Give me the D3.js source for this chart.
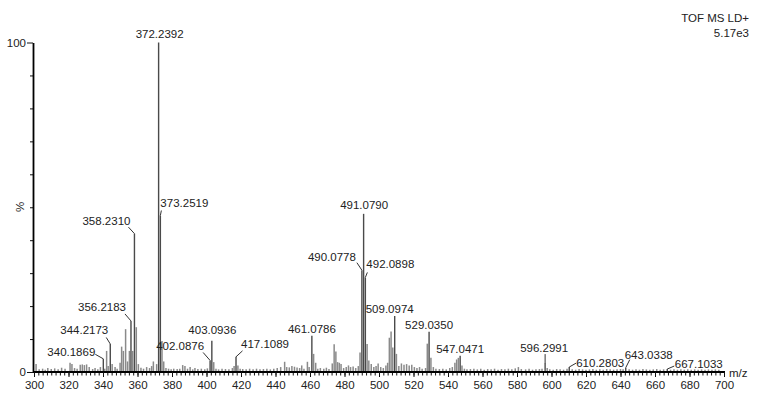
<!DOCTYPE html>
<html>
<head>
<meta charset="utf-8">
<script src="https://cdn.jsdelivr.net/npm/d3@7"></script>
<style>
    body { margin: 0; background: #fff; }
    #spectrum text { font-family: "Liberation Sans", Arial, sans-serif; font-size: 11.5px; fill: #222; }
</style>
</head>
<body>
<div id="spectrum"></div>
<script>
// labelled peaks (m/z, relative intensity %)
const labelMz = [340.1869, 344.2173, 356.2183, 358.2310, 372.2392, 373.2519, 402.0876, 403.0936,
    417.1089, 461.0786, 490.0778, 491.0790, 492.0898, 509.0974, 529.0350, 547.0471,
    596.2991, 610.2803, 643.0338, 667.1033];
const labelPct = [4.0, 8.5, 15.5, 42, 100, 47.5, 3.5, 9.5,
    4.6, 11, 30.9, 48, 28.7, 17, 12.2, 4.9,
    2.7, 1.5, 1.3, 0.9];

// unlabelled peaks
const peakMz = [301.2, 303, 305, 306.5, 308, 310, 312, 314, 316, 318, 320.9, 322, 323.5, 325, 326.8, 328, 329.2, 330.5,
    332, 334, 335.4, 337, 338.5, 341, 342.1, 343, 345.3, 347, 348.2, 349.9, 350.8, 351.8, 353.1, 354.2, 355.3, 357.2,
    359.3, 360.5, 362, 363.5, 365.3, 367, 368.2, 369.2, 371.1, 374.2, 375.2, 376.5, 378, 379.5, 381, 383, 384.5, 386.2,
    387.5, 389, 390.5, 392, 393.3, 395, 397, 399, 400.5, 404.2, 405.5, 407, 409, 411, 413, 415, 416, 418.2, 419.5, 421,
    423, 425, 427, 429, 431, 433, 435, 437, 439, 441, 443, 445.3, 446.5, 448, 449.5, 451, 452.5, 454, 455.2, 456.5,
    458.5, 459.5, 462.1, 463.3, 464.5, 466, 468, 469.5, 471, 472.9, 474, 475, 476, 477, 478, 479.5, 481, 482.3, 483.5,
    485, 486.5, 488, 489, 493.1, 494.1, 495.5, 497, 498.3, 499.5, 501, 502.5, 504, 505, 506, 507, 508, 510.1, 511.5,
    513, 514.5, 516, 517.5, 519, 520.5, 522, 523.5, 525, 527, 528, 530.1, 531.5, 533, 535, 537, 539, 541, 542.5, 544,
    545, 546, 548.1, 549.5, 551, 553, 555, 557, 559, 561, 563, 565, 567, 569, 571, 573, 575, 577, 579, 580.8, 582.5,
    585, 587, 589, 591, 593, 594.5, 597.5, 599, 601, 603, 605, 607, 609, 612, 614, 616, 618, 620, 622, 624, 626, 628,
    630, 632, 634, 636, 638, 640, 641.5, 645, 647, 649, 651, 653, 655, 657, 659, 661, 663, 665, 669, 671, 673, 675,
    677, 679, 681, 683, 685, 687, 689, 691, 693, 695, 697];
const peakPct = [2.4, 0.8, 1.0, 0.7, 1.2, 0.9, 1.1, 0.8, 1.3, 1.0, 2.8, 2.4, 1.2, 1.0, 2.2, 2.3, 2.1, 2.3,
    1.5, 0.9, 1.2, 0.8, 1.5, 1.0, 6.4, 1.8, 2.4, 1.5, 1.0, 2.8, 7.7, 6.4, 13, 3.2, 6.4, 6.4,
    13.6, 2.4, 1.3, 1.0, 1.5, 1.2, 1.8, 3.2, 2.4, 9.4, 3.2, 1.2, 1.0, 0.8, 1.0, 0.9, 1.0, 2.1,
    1.8, 1.0, 1.5, 0.8, 1.2, 0.9, 1.0, 0.8, 1.1, 3.0, 1.0, 0.8, 1.0, 0.9, 0.8, 1.2, 1.8, 2.0, 1.0, 0.9,
    0.8, 1.0, 0.8, 1.0, 0.8, 0.9, 1.0, 0.8, 1.0, 1.2, 1.5, 3.1, 1.5, 1.4, 1.8, 1.6, 1.4, 1.2, 2.0, 1.0,
    3.1, 1.5, 5.5, 2.8, 1.0, 1.2, 1.0, 1.3, 0.9, 2.6, 8.4, 6.2, 3.0, 2.8, 2.4, 1.2, 1.5, 2.0, 1.5,
    1.7, 1.2, 1.8, 5.9, 8.5, 3.5, 2.4, 1.5, 1.8, 2.6, 1.5, 1.2, 2.0, 2.8, 10.4, 12.3, 7.4, 5.5, 1.8,
    2.6, 2.2, 2.4, 2.0, 2.2, 1.5, 1.2, 1.5, 1.0, 1.2, 8.6, 4.3, 1.5, 1.0, 0.9, 1.0, 0.8, 1.2, 1.5, 2.8,
    3.8, 4.3, 2.0, 1.0, 0.8, 0.9, 1.0, 0.8, 1.0, 0.7, 0.9, 0.8, 1.0, 0.7, 0.9, 0.8, 1.0, 0.8, 1.1, 1.5, 0.9,
    0.8, 1.0, 0.7, 0.8, 0.9, 1.0, 1.2, 0.8, 0.7, 0.9, 0.8, 0.7, 1.0, 0.8, 0.7, 0.9, 0.8, 0.7, 0.8, 0.9, 0.7, 0.8,
    0.7, 0.9, 0.8, 0.7, 0.8, 0.9, 0.8, 0.8, 0.7, 0.8, 0.7, 0.9, 0.8, 0.7, 0.8, 0.9, 0.7, 0.8, 0.7, 0.8, 0.7, 0.8,
    0.7, 0.8, 0.7, 0.8, 0.7, 0.8, 0.7, 0.8, 0.7, 0.8, 0.7];

const xTicks = d3.range(300, 701, 20);
const yTicks = [0, 100];
const headerLines = ["TOF MS LD+", "5.17e3"];

// where each label sits relative to its peak top: text offset, anchor, leader start
const labelLayout = {
    "340.1869": { dx: -8, dy: -3, anchor: "end", lx: -8, ly: -4.5 },
    "344.2173": { dx: -2, dy: -9.5, anchor: "end", lx: -4, ly: -6.5 },
    "356.2183": { dx: -5, dy: -10, anchor: "end", lx: -6, ly: -7 },
    "358.2310": { dx: -4, dy: -9, anchor: "end", lx: -6, ly: -6.5 },
    "372.2392": { dx: 1, dy: -5, anchor: "middle" },
    "373.2519": { dx: 0, dy: -8, anchor: "start", lx: 1, ly: -5 },
    "402.0876": { dx: -6, dy: -10, anchor: "end", lx: -7, ly: -8 },
    "403.0936": { dx: 0.5, dy: -7, anchor: "middle" },
    "417.1089": { dx: 5, dy: -8.5, anchor: "start", lx: 6.5, ly: -6 },
    "461.0786": { dx: 0, dy: -3, anchor: "middle" },
    "490.0778": { dx: -6, dy: -9.5, anchor: "end", lx: -5, ly: -7.5 },
    "491.0790": { dx: 0.5, dy: -4.5, anchor: "middle" },
    "492.0898": { dx: 1, dy: -9, anchor: "start", lx: 2, ly: -5 },
    "509.0974": { dx: -5, dy: -3, anchor: "middle" },
    "529.0350": { dx: 0, dy: -3, anchor: "middle" },
    "547.0471": { dx: 0, dy: -2.5, anchor: "middle" },
    "596.2991": { dx: -1, dy: -11, anchor: "middle", lx: 0, ly: -9 },
    "610.2803": { dx: 7, dy: 0, anchor: "start", lx: 7, ly: -4 },
    "643.0338": { dx: -1, dy: -9, anchor: "start", lx: 4, ly: -8 },
    "667.1033": { dx: 7.5, dy: -1.5, anchor: "start", lx: 7, ly: -3 }
};

const width = 765, height = 398;

let svg = d3.select("#spectrum")
    .append("svg")
    .attr("width", width)
    .attr("height", height);

let x = d3.scaleLinear().domain([300, 700]).range([34, 724]);
let y = d3.scaleLinear().domain([0, 100]).range([372, 42.5]);

// unlabelled peaks
svg.append("g")
    .selectAll("line")
    .data(d3.zip(peakMz, peakPct))
    .join("line")
    .attr("x1", d => x(d[0])).attr("x2", d => x(d[0]))
    .attr("y1", y(0)).attr("y2", d => y(d[1]))
    .attr("stroke", "#8a8a8a")
    .attr("stroke-width", 1.5);

// labelled peaks
let labelled = d3.zip(labelMz, labelPct);
svg.append("g")
    .selectAll("line")
    .data(labelled)
    .join("line")
    .attr("x1", d => x(d[0])).attr("x2", d => x(d[0]))
    .attr("y1", y(0)).attr("y2", d => y(d[1]))
    .attr("stroke", "#4a4a4a")
    .attr("stroke-width", 1.4);

// leaders from labels to peak tops
svg.append("g")
    .selectAll("line")
    .data(labelled.filter(d => labelLayout[d[0].toFixed(4)].lx !== undefined))
    .join("line")
    .attr("x1", d => x(d[0]) + labelLayout[d[0].toFixed(4)].lx)
    .attr("y1", d => y(d[1]) + labelLayout[d[0].toFixed(4)].ly)
    .attr("x2", d => x(d[0]))
    .attr("y2", d => y(d[1]))
    .attr("stroke", "#333")
    .attr("stroke-width", 1);

// peak labels
svg.append("g")
    .selectAll("text")
    .data(labelled)
    .join("text")
    .attr("x", d => x(d[0]) + labelLayout[d[0].toFixed(4)].dx)
    .attr("y", d => y(d[1]) + labelLayout[d[0].toFixed(4)].dy)
    .attr("text-anchor", d => labelLayout[d[0].toFixed(4)].anchor)
    .text(d => d[0].toFixed(4));

// x axis, minor ticks first
svg.append("g")
    .attr("transform", `translate(0, ${y(0)})`)
    .call(d3.axisBottom(x).tickValues(d3.range(300, 700.1, 2.5)).tickSize(3.5).tickFormat("").tickSizeOuter(0))
    .call(g => g.select(".domain").remove())
    .call(g => g.selectAll(".tick line").attr("stroke", "#111"));

svg.append("g")
    .attr("transform", `translate(0, ${y(0)})`)
    .call(d3.axisBottom(x).tickValues(xTicks).tickSize(5).tickPadding(4).tickSizeOuter(0))
    .call(g => g.select(".domain").attr("d", `M33,0H725`).attr("stroke", "#000").attr("stroke-width", 1.8))
    .call(g => g.selectAll(".tick line").attr("stroke", "#111"))
    .call(g => g.selectAll("text").attr("font-family", null).attr("font-size", null));

svg.append("text")
    .attr("x", 729)
    .attr("y", 377)
    .text("m/z");

// y axis
svg.append("g")
    .attr("transform", "translate(33, 0)")
    .call(d3.axisLeft(y).tickValues(d3.range(10, 100, 10)).tickSize(3).tickFormat("").tickSizeOuter(0))
    .call(g => g.select(".domain").remove())
    .call(g => g.selectAll(".tick line").attr("stroke", "#111"));

svg.append("g")
    .attr("transform", "translate(33, 0)")
    .call(d3.axisLeft(y).tickValues(yTicks).tickSize(6).tickPadding(1).tickSizeOuter(0))
    .call(g => g.select(".domain").attr("stroke", "#000").attr("stroke-width", 1.8))
    .call(g => g.selectAll(".tick line").attr("stroke", "#111"))
    .call(g => g.selectAll("text").attr("font-family", null).attr("font-size", null));

svg.append("text")
    .attr("transform", "translate(24, 207) rotate(-90)")
    .attr("text-anchor", "middle")
    .text("%");

// instrument header
svg.append("g")
    .selectAll("text")
    .data(headerLines)
    .join("text")
    .attr("x", 749)
    .attr("y", (d, i) => 22 + i * 15)
    .attr("text-anchor", "end")
    .text(d => d);
</script>
</body>
</html>
